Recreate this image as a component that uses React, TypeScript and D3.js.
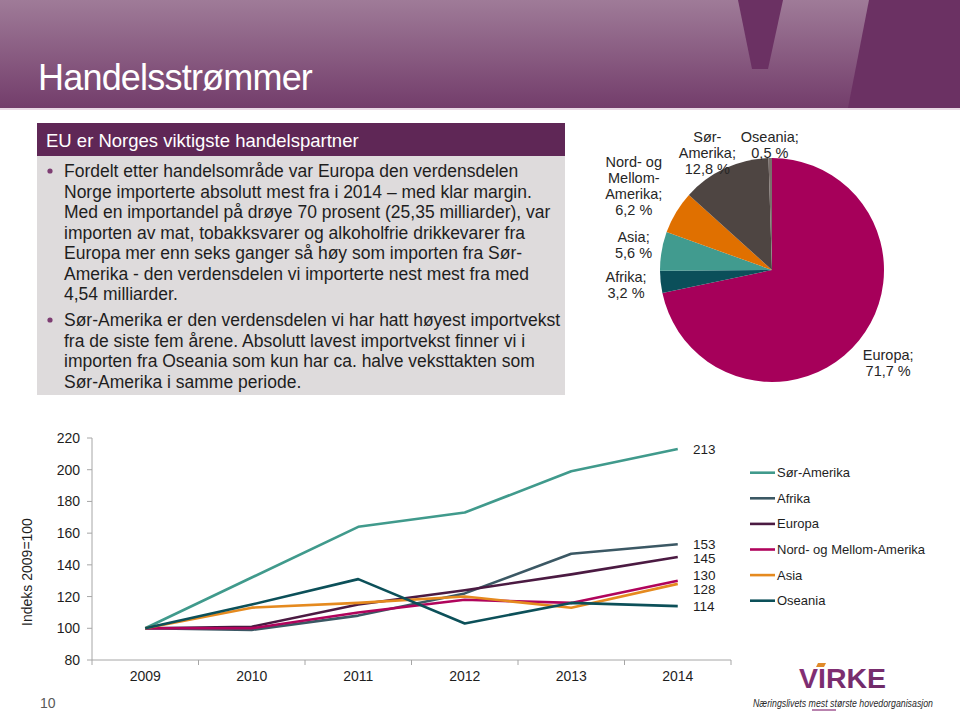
import React from "react";
import * as d3 from "d3";

// ---------- DATA ----------
const years = ["2009", "2010", "2011", "2012", "2013", "2014"];
const seriesNames = ["Sør-Amerika", "Afrika", "Europa", "Nord- og Mellom-Amerika", "Asia", "Oseania"];
const sorAmerika = [100, 132, 164, 173, 199, 213];
const afrika = [100, 99, 108, 122, 147, 153];
const europa = [100, 101, 115, 124, 134, 145];
const nordMellom = [100, 100, 110, 118, 116, 130];
const asia = [100, 113, 116, 120, 113, 128];
const oseania = [100, 115, 131, 103, 116, 114];
const seriesColors = ["#409a8c", "#3b5864", "#4b1a42", "#b0045c", "#e58a1f", "#0c5059"];
const yTicks = [80, 100, 120, 140, 160, 180, 200, 220];

const pieNames = ["Europa", "Afrika", "Asia", "Nord- og Mellom-Amerika", "Sør-Amerika", "Oseania"];
const pieValues = [71.7, 3.2, 5.6, 6.2, 12.8, 0.5];
const pieLabelLines = [
  ["Europa;", "71,7 %"],
  ["Afrika;", "3,2 %"],
  ["Asia;", "5,6 %"],
  ["Nord- og", "Mellom-", "Amerika;", "6,2 %"],
  ["Sør-", "Amerika;", "12,8 %"],
  ["Oseania;", "0,5 %"],
];
const pieColors = ["#a6005a", "#0b4f5a", "#419b8f", "#e07000", "#4e4542", "#7a6f6b"];

const titleText = "Handelsstrømmer";
const boxTitle = "EU er Norges viktigste handelspartner";
const bullet1 = [
  "Fordelt etter handelsområde var Europa den verdensdelen",
  "Norge importerte absolutt mest fra i 2014 – med klar margin.",
  "Med en importandel på drøye 70 prosent (25,35 milliarder), var",
  "importen av mat, tobakksvarer og alkoholfrie drikkevarer fra",
  "Europa mer enn seks ganger så høy som importen fra Sør-",
  "Amerika - den verdensdelen vi importerte nest mest fra med",
  "4,54 milliarder.",
];
const bullet2 = [
  "Sør-Amerika er den verdensdelen vi har hatt høyest importvekst",
  "fra de siste fem årene. Absolutt lavest importvekst finner vi i",
  "importen fra Oseania som kun har ca. halve veksttakten som",
  "Sør-Amerika i samme periode.",
];
const yAxisTitle = "Indeks 2009=100";
const pageNumber = "10";

const FONT = "'Liberation Sans', Arial, sans-serif";

export default function App() {
  const allSeries = [sorAmerika, afrika, europa, nordMellom, asia, oseania];

  // line chart scales
  const x = d3.scaleBand<string>().domain(years).range([92, 731]);
  const y = d3.scaleLinear().domain([80, 220]).range([660, 438]);
  const line = d3
    .line<number>()
    .x((_, i) => (x(years[i]) as number) + x.bandwidth() / 2)
    .y((d) => y(d));

  // end labels with simple collision avoidance
  const minGap = 14;
  const endLabels = allSeries
    .map((s, i) => ({ i, v: s[s.length - 1], y: y(s[s.length - 1]) }))
    .sort((a, b) => a.y - b.y);
  for (let iter = 0; iter < 40; iter++) {
    for (let k = 1; k < endLabels.length; k++) {
      const gap = endLabels[k].y - endLabels[k - 1].y;
      if (gap < minGap) {
        const push = (minGap - gap) / 2;
        endLabels[k].y += push;
        endLabels[k - 1].y -= push;
      }
    }
  }

  // pie
  const cx = 772, cy = 270, r = 112;
  const pie = d3.pie<number>().sort(null).value((d) => d)(pieValues);
  const arc = d3.arc<d3.PieArcDatum<number>>().innerRadius(0).outerRadius(r);
  const lineH = 16;
  const pieLabels = pie.map((p, i) => {
    const lines = pieLabelLines[i];
    const a = (p.startAngle + p.endAngle) / 2;
    const w = Math.max(...lines.map((l) => l.length)) * 7.2;
    const h = lines.length * lineH;
    const dist = r + 8 + Math.abs(Math.sin(a)) * (w / 2) + Math.abs(Math.cos(a)) * (h / 2);
    const lx = cx + Math.sin(a) * dist;
    let ly = cy - Math.cos(a) * dist;
    if (ly - h / 2 < 130) ly = 130 + h / 2;
    return { lines, lx, ly, h };
  });

  const legendY0 = 472.7, legendStep = 25.6;

  return (
    <div style={{ position: "absolute", left: 0, top: 0 }}>
      <svg width={960} height={717} style={{ display: "block", background: "#fff" }} fontFamily={FONT}>
        <defs>
          <linearGradient id="hdr" x1="0" y1="0" x2="0" y2="1">
            <stop offset="0" stopColor="#9f7b98" />
            <stop offset="1" stopColor="#733d6b" />
          </linearGradient>
          <linearGradient id="virke" x1="0" y1="0" x2="1" y2="1">
            <stop offset="0" stopColor="#8a2f77" />
            <stop offset="1" stopColor="#6a2a66" />
          </linearGradient>
        </defs>

        {/* header */}
        <rect x={0} y={0} width={960} height={108} fill="url(#hdr)" />
        <path d="M738,0 L783,0 L768,69 L752,69 Z" fill="#6b3163" />
        <path d="M869,0 L960,0 L960,108 L848,108 Z" fill="#6b3163" />
        <rect x={0} y={108} width={960} height={2} fill="#e9d9e5" />
        <text x={38} y={90} fill="#fff" fontSize={36} style={{ letterSpacing: "-0.8px" }}>
          {titleText}
        </text>

        {/* text box */}
        <rect x={37} y={123} width={528} height={33} fill="#5f2756" />
        <text x={46} y={147} fill="#fff" fontSize={18.5}>
          {boxTitle}
        </text>
        <rect x={37} y={156} width={528} height={239} fill="#dedbdc" />
        <circle cx={50} cy={171} r={2.6} fill="#7d3d72" />
        {bullet1.map((t, i) => (
          <text key={"b1" + i} x={64} y={177 + i * 20.5} fontSize={17.5} fill="#1e1e1e">
            {t}
          </text>
        ))}
        <circle cx={50} cy={320} r={2.6} fill="#7d3d72" />
        {bullet2.map((t, i) => (
          <text key={"b2" + i} x={64} y={326 + i * 20.5} fontSize={17.5} fill="#1e1e1e">
            {t}
          </text>
        ))}

        {/* pie */}
        <g transform={`translate(${cx},${cy})`}>
          {pie.map((p, i) => (
            <path key={pieNames[i]} d={arc(p) as string} fill={pieColors[i]} />
          ))}
        </g>
        {pieLabels.map((l, i) => (
          <text key={"pl" + i} textAnchor="middle" fontSize={14.5} fill="#262626">
            {l.lines.map((t, k) => (
              <tspan key={k} x={l.lx} y={l.ly - l.h / 2 + lineH * k + 12}>
                {t}
              </tspan>
            ))}
          </text>
        ))}

        {/* line chart axes */}
        <line x1={92} x2={92} y1={438} y2={660} stroke="#a6a6a6" />
        {yTicks.map((t) => (
          <g key={"yt" + t}>
            <line x1={87} x2={92} y1={y(t)} y2={y(t)} stroke="#a6a6a6" />
            <text x={80} y={y(t) + 5} textAnchor="end" fontSize={14} fill="#1e1e1e">
              {t}
            </text>
          </g>
        ))}
        <line x1={92} x2={731} y1={660} y2={660} stroke="#a6a6a6" />
        {[...years.map((yr) => x(yr) as number), 731].map((bx, i) => (
          <line key={"xt" + i} x1={bx} x2={bx} y1={660} y2={665} stroke="#a6a6a6" />
        ))}
        {years.map((yr) => (
          <text
            key={"xl" + yr}
            x={(x(yr) as number) + x.bandwidth() / 2}
            y={681}
            textAnchor="middle"
            fontSize={14}
            fill="#1e1e1e"
          >
            {yr}
          </text>
        ))}
        <text
          transform="translate(32,572) rotate(-90)"
          textAnchor="middle"
          fontSize={14}
          fill="#1e1e1e"
        >
          {yAxisTitle}
        </text>

        {/* lines */}
        {allSeries.map((s, i) => (
          <path
            key={"ln" + i}
            d={line(s) as string}
            fill="none"
            stroke={seriesColors[i]}
            strokeWidth={2.6}
            strokeLinejoin="round"
          />
        ))}
        {endLabels.map((l) => (
          <text key={"el" + l.i} x={693} y={l.y + 5} fontSize={13.5} fill="#1e1e1e">
            {l.v}
          </text>
        ))}

        {/* legend */}
        {seriesNames.map((n, i) => (
          <g key={"lg" + i}>
            <line
              x1={750}
              x2={775}
              y1={legendY0 + i * legendStep}
              y2={legendY0 + i * legendStep}
              stroke={seriesColors[i]}
              strokeWidth={2.6}
            />
            <text x={777} y={legendY0 + i * legendStep + 4.5} fontSize={13} fill="#1e1e1e">
              {n}
            </text>
          </g>
        ))}

        {/* page number */}
        <text x={40} y={708} fontSize={14} fill="#595959">
          {pageNumber}
        </text>

        {/* logo */}
        <text x={799} y={688} fontSize={28} fontWeight="bold" fill="url(#virke)" textLength={87} lengthAdjust="spacingAndGlyphs">
          VIRKE
        </text>
        <path d="M818,663 L826,663 L824,667 L816,667 Z" fill="#e08a2a" />
        <text
          x={753}
          y={707}
          fontSize={10}
          fontStyle="italic"
          fill="#2a2a2a"
          textLength={180}
          lengthAdjust="spacingAndGlyphs"
        >
          Næringslivets mest største hovedorganisasjon
        </text>
        <line x1={812} x2={836} y1={710} y2={710} stroke="#8a2f77" strokeWidth={1.2} />
      </svg>
    </div>
  );
}
